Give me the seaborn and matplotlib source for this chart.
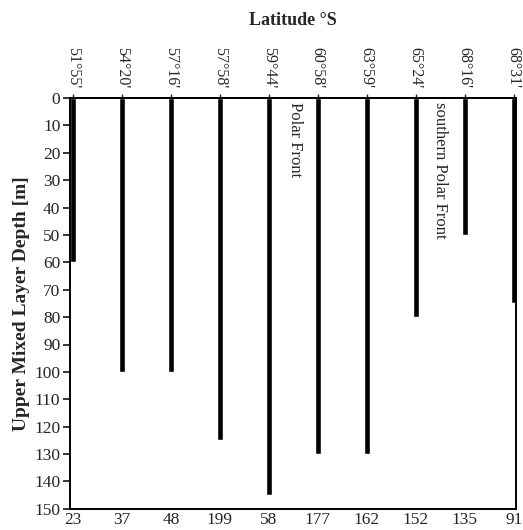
import matplotlib
matplotlib.use("Agg")
import matplotlib.pyplot as plt
import seaborn as sns
import pandas as pd

# Station numbers (bottom axis) and their latitudes (top axis)
stations = ["23", "37", "48", "199", "58", "177", "162", "152", "135", "91"]
latitudes = ["51°55'", "54°20'", "57°16'", "57°58'", "59°44'",
             "60°58'", "63°59'", "65°24'", "68°16'", "68°31'"]
# Upper mixed layer depth at each station [m]
depth = [60, 100, 100, 125, 145, 130, 130, 80, 50, 75]

sns.set_theme(style="ticks")
plt.rcParams["font.family"] = ["Liberation Serif", "DejaVu Serif"]
plt.rcParams["font.size"] = 12

df = pd.DataFrame({"station": stations, "depth": depth})

fig = plt.figure(figsize=(5.23, 5.30), dpi=100)
ax = fig.add_axes([0.134, 0.040, 0.853, 0.775])

sns.barplot(data=df, x="station", y="depth", order=stations,
            color="black", width=0.12, saturation=1, ax=ax)

ax.set_ylim(150, 0)
ax.set_xlim(-0.06, 9.05)
ax.set_yticks(range(0, 151, 10))
ax.tick_params(axis="y", direction="out", length=5, width=1.3, labelsize=12.5, pad=2)
ax.tick_params(axis="x", length=0, labelsize=12.5, pad=2)
ax.set_xlabel("")
ax.set_ylabel("Upper Mixed Layer Depth [m]", fontsize=14, fontweight="bold", labelpad=3)
for s in ax.spines.values():
    s.set_linewidth(1.4)
    s.set_color("black")

# Latitudes along the top edge
top = ax.secondary_xaxis("top")
top.set_xticks(range(len(latitudes)), labels=latitudes, rotation=270)
top.tick_params(direction="out", length=3, width=1.0, labelsize=11.5, pad=4)
top.set_xlabel("Latitude °S", fontsize=13, fontweight="bold", labelpad=16)

# Frontal zones
ax.text(4.53, 1.5, "Polar Front", rotation=270, ha="center", va="top", fontsize=12)
ax.text(7.5, 1.5, "southern Polar Front", rotation=270, ha="center", va="top", fontsize=12)

fig.savefig("out.png", dpi=100)
